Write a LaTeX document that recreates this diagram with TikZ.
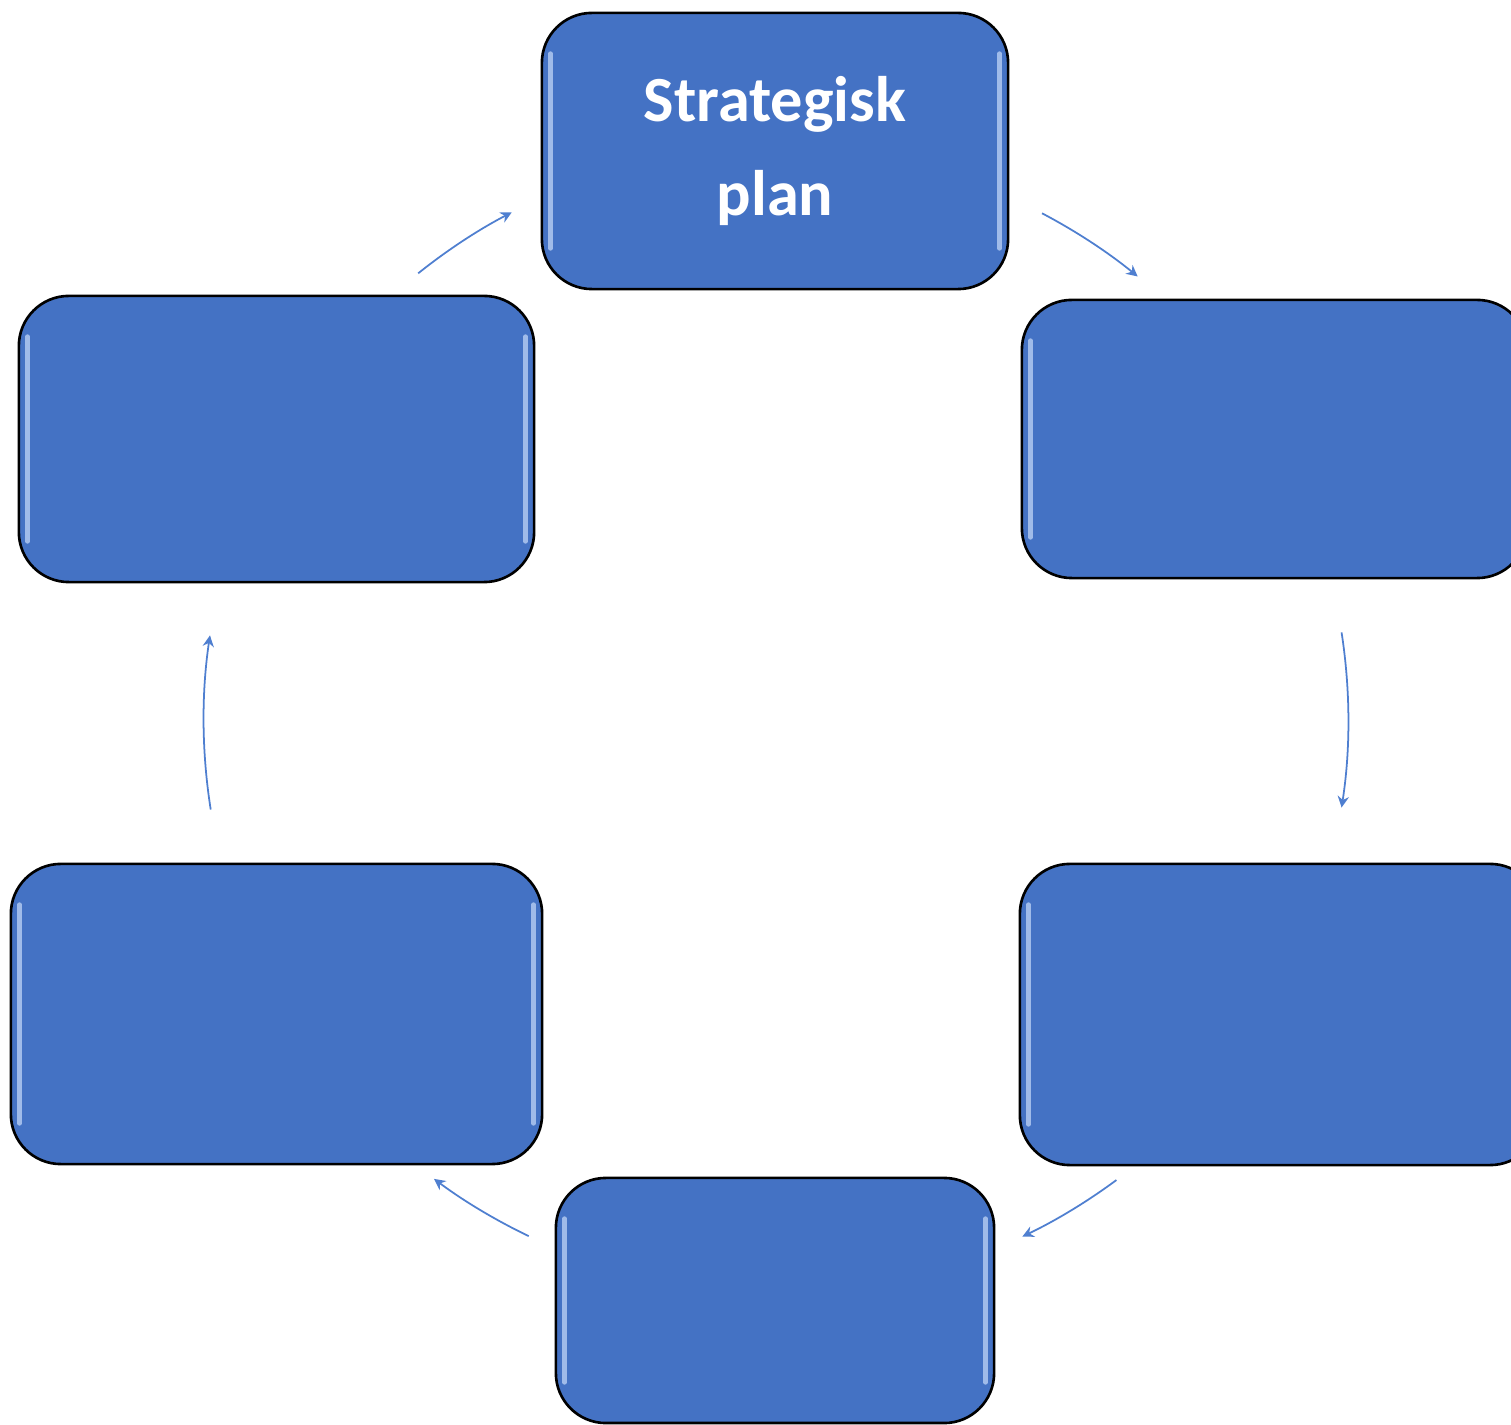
\documentclass[tikz,border=0pt]{standalone}
\usepackage{fontspec}
\setmainfont{Carlito}
\usetikzlibrary{arrows.meta}
\definecolor{boxblue}{HTML}{4472C4}
\definecolor{arrowblue}{HTML}{4F7FD0}
\definecolor{hilite}{HTML}{BFD4F6}
\tikzset{
  card/.style={draw=black, line width=0.75pt, fill=boxblue, rounded corners=0.5cm,
    inner sep=0pt, text=white, font=\bfseries\fontsize{18.3}{27}\selectfont, align=center},
  cyc/.style={draw=arrowblue, line width=0.5pt, -{Stealth[length=3.2pt,width=3.2pt]}},
  hl/.style={draw=hilite, line width=1.3pt, line cap=round, opacity=0.75}
}
\begin{document}
\begin{tikzpicture}[x=0.01cm,y=0.01cm]
\path[use as bounding box, clip] (0,0) rectangle (1511,-1425);
% boxes
\node[card, minimum width=4.66cm, minimum height=2.76cm] (top) at (775,-151) {Strategisk\\plan};
\node[card, minimum width=5.05cm, minimum height=2.78cm] (rtop) at (1274.5,-439) {};
\node[card, minimum width=5.20cm, minimum height=3.01cm] (rbot) at (1280,-1014.5) {};
\node[card, minimum width=4.38cm, minimum height=2.45cm] (bot) at (775,-1300.5) {};
\node[card, minimum width=5.31cm, minimum height=3.00cm] (lbot) at (276.5,-1014) {};
\node[card, minimum width=5.15cm, minimum height=2.86cm] (ltop) at (276.5,-439) {};
% bevel highlights
\foreach \n in {top,rtop,rbot,bot,lbot,ltop}{
  \draw[hl] ([xshift=0.1cm,yshift=-0.42cm]\n.north west) -- ([xshift=0.1cm,yshift=0.42cm]\n.south west);
  \draw[hl] ([xshift=-0.1cm,yshift=-0.42cm]\n.north east) -- ([xshift=-0.1cm,yshift=0.42cm]\n.south east);
}
% cycle arrows on circle centred at (776,-720), radius 572
\coordinate (c) at (776,-720);
\draw[cyc] (c) ++(62.3:5.72cm) arc[start angle=62.3, end angle=50.8, radius=5.72cm];
\draw[cyc] (c) ++(8.8:5.72cm) arc[start angle=8.8, end angle=-8.8, radius=5.72cm];
\draw[cyc] (c) ++(-53.5:5.72cm) arc[start angle=-53.5, end angle=-64.5, radius=5.72cm];
\draw[cyc] (c) ++(244.4:5.72cm) arc[start angle=244.4, end angle=233.3, radius=5.72cm];
\draw[cyc] (c) ++(189:5.72cm) arc[start angle=189, end angle=171.5, radius=5.72cm];
\draw[cyc] (c) ++(128.7:5.72cm) arc[start angle=128.7, end angle=117.5, radius=5.72cm];
\end{tikzpicture}
\end{document}
